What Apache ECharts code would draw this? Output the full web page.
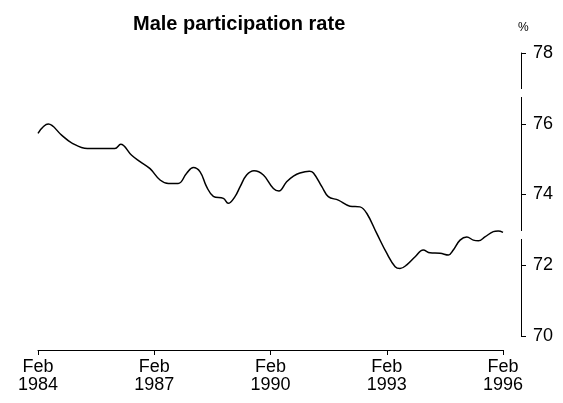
<!DOCTYPE html>
<html>
<head>
<meta charset="utf-8">
<script src="https://cdn.jsdelivr.net/npm/echarts@6/dist/echarts.min.js"></script>
<style>
html,body{margin:0;padding:0;background:#fff;}
#chart{width:563px;height:403px;}
</style>
</head>
<body>
<div id="chart"></div>
<script>
// months since Feb 1984
var months = [0, 3.2, 7.3, 10.4, 15.3, 23.8, 25.6, 29.0, 31.6, 34.7, 37.8, 40.4, 43.4, 46.1, 48.1, 50.2, 52.2, 54.3, 57.4, 58.9, 61.0, 62.6, 64.6, 66.9, 69.8, 72.9, 74.6, 77.0, 79.1, 81.1, 84.0, 85.3, 87.9, 89.9, 93.0, 96.6, 99.7, 101.8, 104.9, 108.0, 110.6, 112.1, 114.2, 116.8, 119.3, 121.4, 124.5, 127.1, 128.6, 130.7, 132.8, 134.8, 136.4, 138.4, 141.0, 142.5, 144.0];
var rate = [75.73, 75.99, 75.68, 75.46, 75.30, 75.30, 75.42, 75.11, 74.93, 74.73, 74.41, 74.31, 74.31, 74.61, 74.76, 74.64, 74.22, 73.95, 73.89, 73.75, 73.94, 74.22, 74.55, 74.67, 74.55, 74.17, 74.10, 74.36, 74.52, 74.61, 74.66, 74.61, 74.22, 73.94, 73.84, 73.67, 73.65, 73.47, 72.90, 72.34, 71.96, 71.91, 72.01, 72.24, 72.43, 72.35, 72.34, 72.29, 72.43, 72.71, 72.80, 72.71, 72.69, 72.80, 72.95, 72.97, 72.93];
var tickYears = [1984, 1987, 1990, 1993, 1996];
var yTicks = [70, 72, 74, 76, 78];
var titleText = 'Male participation rate';

var pts = months.map(function (m, i) { return [m, rate[i]]; });
var font = 'Liberation Sans, Arial, Helvetica, sans-serif';
var chart = echarts.init(document.getElementById('chart'), null, {renderer: 'canvas'});
chart.setOption({
  animation: false,
  backgroundColor: '#fff',
  title: {
    text: titleText,
    left: 128, top: 9,
    textStyle: {fontFamily: font, fontWeight: 'bold', fontSize: 20, color: '#000'}
  },
  grid: {left: 38, right: 60, top: 53, bottom: 67},
  xAxis: {
    type: 'value', min: 0, max: 144, interval: 36, offset: 14,
    axisLine: {show: true, onZero: false, lineStyle: {color: '#000', width: 1}},
    axisTick: {show: true, length: 5, lineStyle: {color: '#000'}},
    splitLine: {show: false},
    axisLabel: {
      color: '#000', fontFamily: font, fontSize: 18, lineHeight: 18, margin: 8,
      formatter: function (v) { return 'Feb\n' + tickYears[Math.round(v / 36)]; }
    }
  },
  yAxis: {
    type: 'value', position: 'right', min: yTicks[0], max: yTicks[yTicks.length - 1], interval: 2, offset: 18,
    name: '%', nameLocation: 'end', nameGap: 19,
    nameTextStyle: {color: '#000', fontFamily: font, fontSize: 12, align: 'left', padding: [0, 0, 0, -3]},
    axisLine: {show: true, onZero: false, lineStyle: {color: '#000', width: 1}},
    axisTick: {show: true, length: 5, lineStyle: {color: '#000'}},
    splitLine: {show: false},
    axisLabel: {color: '#000', fontFamily: font, fontSize: 18, margin: 12}
  },
  graphic: [
    {type: 'rect', shape: {x: 519, y: 89, width: 4, height: 8}, style: {fill: '#fff'}, z: 100},
    {type: 'rect', shape: {x: 519, y: 231, width: 4, height: 8}, style: {fill: '#fff'}, z: 100}
  ],
  series: [{
    type: 'line', data: pts, smooth: 0.4, showSymbol: false, symbol: 'none',
    lineStyle: {color: '#000', width: 1.5}
  }]
});
</script>
</body>
</html>
